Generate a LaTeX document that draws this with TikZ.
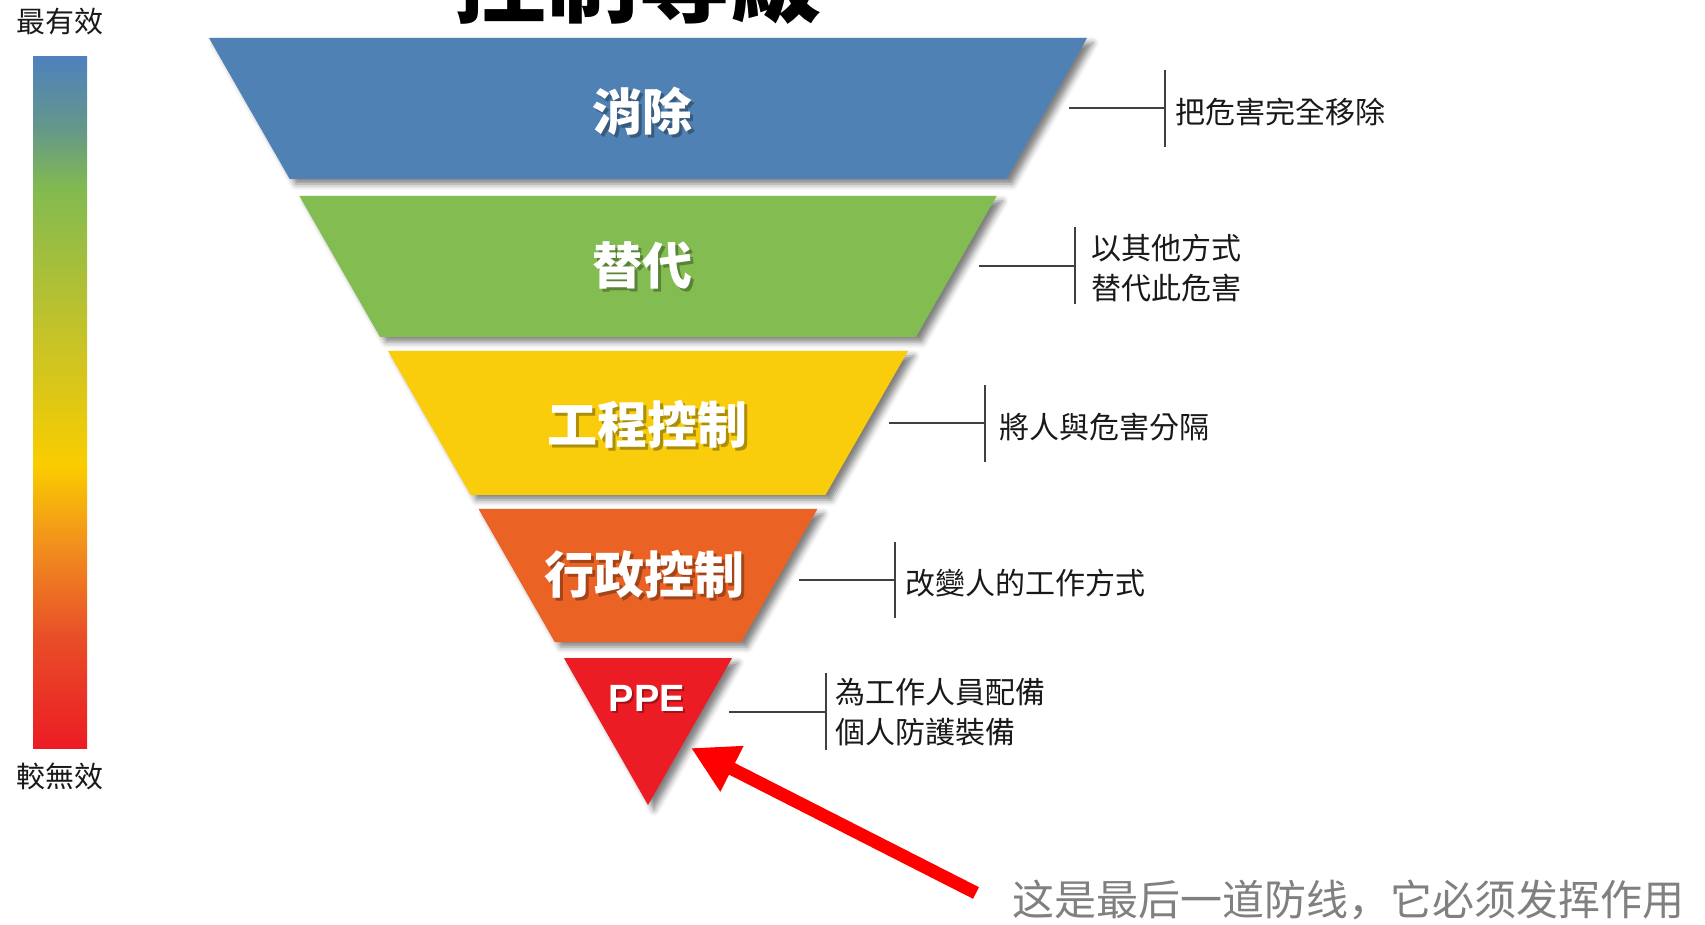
\documentclass[tikz,border=0pt]{standalone}
\usepackage{fontspec}
\setmainfont{Liberation Sans}
\newfontfamily\tcfont{Noto Sans CJK TC}
\newfontfamily\scfont{Noto Sans CJK SC}
\usetikzlibrary{arrows.meta,shadows.blur}
\definecolor{lblue}{RGB}{79,129,180}
\definecolor{lgreen}{RGB}{131,188,81}
\definecolor{lyellow}{RGB}{249,204,12}
\definecolor{lorange}{RGB}{234,99,37}
\definecolor{lred}{RGB}{236,28,36}
\definecolor{arrowred}{RGB}{255,0,0}
\definecolor{notegray}{RGB}{128,128,128}
\definecolor{barA}{RGB}{236,28,36}
\definecolor{barB}{RGB}{232,78,40}
\definecolor{barC}{RGB}{241,142,30}
\definecolor{barD}{RGB}{250,205,0}
\definecolor{barE}{RGB}{205,196,35}
\definecolor{barF}{RGB}{178,192,52}
\definecolor{barG}{RGB}{130,186,80}
\definecolor{barH}{RGB}{100,150,140}
\definecolor{barI}{RGB}{79,129,189}
\pgfdeclareverticalshading{effbar}{100bp}{color(0bp)=(barA); color(25bp)=(barA); color(33bp)=(barB); color(39.5bp)=(barC); color(45.5bp)=(barD); color(53.5bp)=(barE); color(58bp)=(barF); color(65.5bp)=(barG); color(70bp)=(barH); color(75bp)=(barI); color(100bp)=(barI)}
\begin{document}
\begin{tikzpicture}[x=0.5pt,y=-0.5pt,
  layerfill/.style={blur shadow={shadow xshift=3pt,shadow yshift=-2.5pt,shadow blur radius=3pt,shadow opacity=50}},
  layertext/.style={font=\tcfont\bfseries\fontsize{25pt}{30pt}\selectfont, text=white, inner sep=0},
  layershadow/.style={font=\tcfont\bfseries\fontsize{25pt}{30pt}\selectfont, text=black, text opacity=0.3, inner sep=0},
  bracket/.style={draw=black!75,line width=0.9pt},
  note/.style={font=\tcfont\fontsize{15pt}{20pt}\selectfont, anchor=west, align=left, inner sep=0, text=black!90},
  sidelabel/.style={font=\tcfont\fontsize{14.5pt}{18pt}\selectfont, inner sep=0, text=black!90},
]
\useasboundingbox (0,0) rectangle (1705,925);
\clip (0,0) rectangle (1705,925);

% title (cut off at the top)
\node[font=\tcfont\bfseries\fontsize{46pt}{50pt}\selectfont, anchor=base, inner sep=0] (title) at (638,16) {控制等級};

% effectiveness bar
\shade[shading=effbar] (33,57) rectangle (87,748);
\node[sidelabel] (most) at (60,22) {最有效};
\node[sidelabel] (least) at (60,776) {較無效};

% layers
\path[fill=lblue,layerfill] (209,38) -- (1087,38) -- (1006.3,179) -- (289.7,179) -- cycle;
\path[fill=lgreen,layerfill] (299.4,196) -- (996.6,196) -- (916,337) -- (380,337) -- cycle;
\path[fill=lyellow,layerfill] (388,351) -- (908,351) -- (825.4,495) -- (470.6,495) -- cycle;
\path[fill=lorange,layerfill] (478.6,509) -- (817.4,509) -- (741.3,642) -- (554.7,642) -- cycle;
\path[fill=lred,layerfill] (563.9,658) -- (732.1,658) -- (648,805) -- cycle;

% layer texts
\node[layershadow] at (645,114) {消除};
\node[layertext] (t1) at (642,111) {消除};
\node[layershadow] at (645,269) {替代};
\node[layertext] (t2) at (642,266) {替代};
\node[layershadow] at (650,427) {工程控制};
\node[layertext] (t3) at (647,424) {工程控制};
\node[layershadow] at (647,577) {行政控制};
\node[layertext] (t4) at (644,574) {行政控制};
\node[font=\bfseries\fontsize{19pt}{22pt}\selectfont, text=black, text opacity=0.3, inner sep=0] at (649,700) {PPE};
\node[font=\bfseries\fontsize{19pt}{22pt}\selectfont, text=white, inner sep=0] (t5) at (647,698) {PPE};

% notes with brackets
\node[note] (n1) at (1175,112) {把危害完全移除};
\coordinate (h1) at (1069,108); \coordinate (v1) at (1165,108);
\coordinate (v1t) at (1165,70); \coordinate (v1b) at (1165,147);
\draw[bracket] (h1) -- (v1); \draw[bracket] (v1t) -- (v1b);

\node[note] (n2) at (1091,268) {以其他方式\\替代此危害};
\coordinate (h2) at (979,266); \coordinate (v2) at (1075,266);
\coordinate (v2t) at (1075,227); \coordinate (v2b) at (1075,304);
\draw[bracket] (h2) -- (v2); \draw[bracket] (v2t) -- (v2b);

\node[note] (n3) at (999,427) {將人與危害分隔};
\coordinate (h3) at (889,423); \coordinate (v3) at (985,423);
\coordinate (v3t) at (985,385); \coordinate (v3b) at (985,462);
\draw[bracket] (h3) -- (v3); \draw[bracket] (v3t) -- (v3b);

\node[note] (n4) at (905,583) {改變人的工作方式};
\coordinate (h4) at (799,580); \coordinate (v4) at (895,580);
\coordinate (v4t) at (895,542); \coordinate (v4b) at (895,618);
\draw[bracket] (h4) -- (v4); \draw[bracket] (v4t) -- (v4b);

\node[note] (n5) at (835,712) {為工作人員配備\\個人防護裝備};
\coordinate (h5) at (729,712); \coordinate (v5) at (826,712);
\coordinate (v5t) at (826,673); \coordinate (v5b) at (826,750);
\draw[bracket] (h5) -- (v5); \draw[bracket] (v5t) -- (v5b);

% red arrow and remark
\coordinate (atail) at (976,893);
\coordinate (ahead) at (691,748);
\draw[arrowred, line width=6.5pt, -{Triangle[length=23pt,width=24pt]}] (atail) -- (ahead);
\node[font=\scfont\fontsize{21pt}{24pt}\selectfont, text=notegray, inner sep=0] (remark) at (1348,900) {这是最后一道防线，它必须发挥作用};
\end{tikzpicture}
\end{document}
